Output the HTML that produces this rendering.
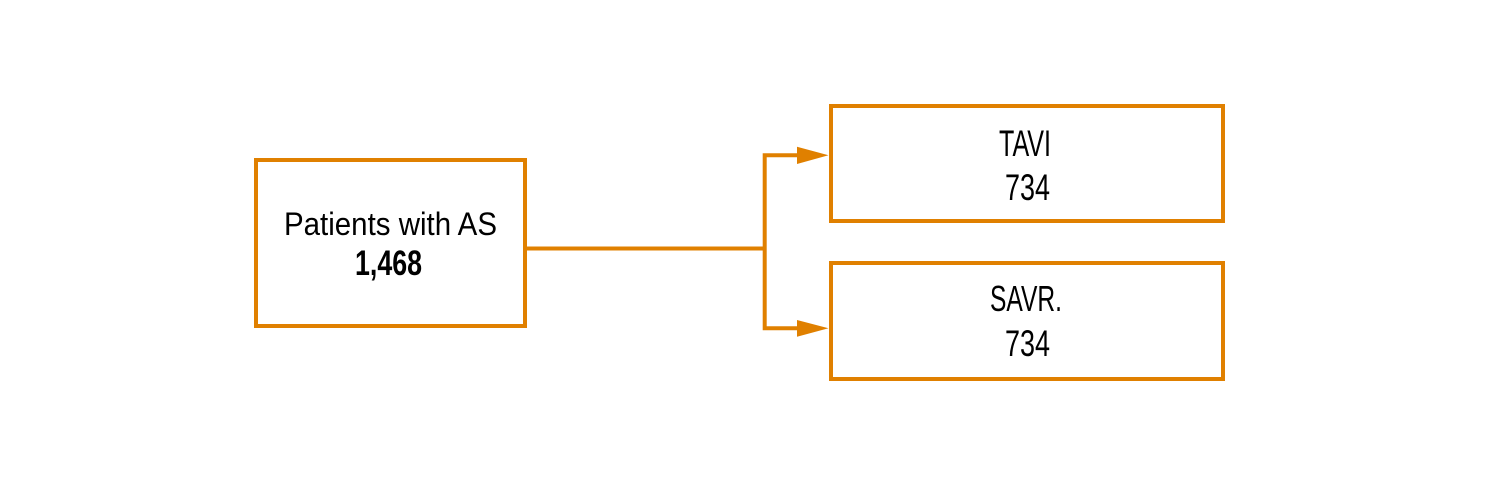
<!DOCTYPE html>
<html>
<head>
<meta charset="utf-8">
<style>
  html,body{margin:0;padding:0;background:#fff;}
  svg{display:block;}
  text{font-family:"Liberation Sans Narrow","Liberation Sans",sans-serif;fill:#000;}
</style>
</head>
<body>
<svg width="1512" height="482" viewBox="0 0 1512 482" xmlns="http://www.w3.org/2000/svg">
  <rect x="0" y="0" width="1512" height="482" fill="#fff"/>
  <g fill="none" stroke="#E08000" stroke-width="4">
    <rect x="256" y="160" width="269" height="166"/>
    <rect x="831" y="106" width="392" height="115"/>
    <rect x="831" y="263" width="392" height="116"/>
    <line x1="527" y1="248.5" x2="765" y2="248.5"/>
    <polyline points="797,155.3 764.7,155.3 764.7,328.2 797,328.2"/>
  </g>
  <g fill="#E08000">
    <polygon points="797,146.7 828.5,155.3 797,164"/>
    <polygon points="797,320 828.5,328.3 797,336.7"/>
  </g>
  <text x="284" y="235" font-size="32.5" textLength="213" lengthAdjust="spacingAndGlyphs">Patients with AS</text>
  <text x="355" y="275" font-size="35" font-weight="bold" textLength="67" lengthAdjust="spacingAndGlyphs">1,468</text>
  <text x="999" y="156" font-size="37" textLength="52" lengthAdjust="spacingAndGlyphs">TAVI</text>
  <text x="1005" y="200" font-size="37.5" textLength="45" lengthAdjust="spacingAndGlyphs">734</text>
  <text x="990" y="311" font-size="36.5" textLength="72" lengthAdjust="spacingAndGlyphs">SAVR.</text>
  <text x="1005" y="356" font-size="37.5" textLength="45" lengthAdjust="spacingAndGlyphs">734</text>
</svg>
</body>
</html>
